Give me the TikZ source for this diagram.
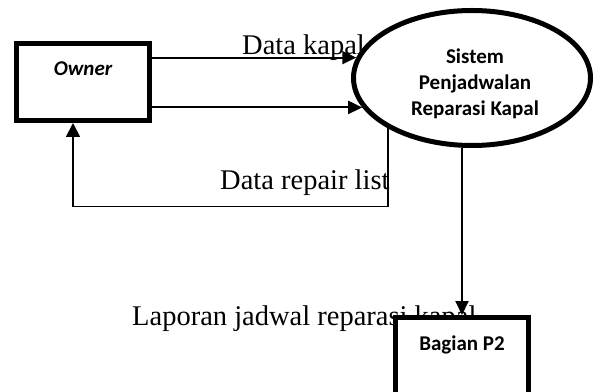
\documentclass[tikz,border=0pt]{standalone}
\usepackage{fontspec}
\setmainfont{Liberation Serif}
\newfontfamily\calibri{Carlito}
\usetikzlibrary{arrows.meta, positioning, shapes.geometric}

\begin{document}
\begin{tikzpicture}[x=1pt, y=1pt]
\clip (0,0) rectangle (594,391);

% Flow labels
\node[anchor=base west, inner sep=0pt, font=\fontsize{28.5}{32}\selectfont] (lblkapal) at (242,336) {Data kapal};
\node[anchor=base west, inner sep=0pt, font=\fontsize{28.5}{32}\selectfont] (lblrepair) at (220,201) {Data repair list};
\node[anchor=base west, inner sep=0pt, font=\fontsize{28.5}{32}\selectfont] (lbllaporan) at (132,66) {Laporan jadwal reparasi kapal};

% External entities
\node[rectangle, draw, line width=5pt, fill=white, minimum width=133pt, minimum height=77pt] (owner) at (83,309) {};
\node[anchor=base, inner sep=0pt, font=\calibri\bfseries\itshape\fontsize{21}{25}\selectfont] (ownertxt) at (83,315) {Owner};

\node[rectangle, draw, line width=5pt, fill=white, minimum width=133pt, minimum height=120pt] (bagian) at (462,13.5) {};
\node[anchor=base, inner sep=0pt, font=\calibri\bfseries\fontsize{21}{25}\selectfont] (bagiantxt) at (462,41) {Bagian P2};

% Process
\node[ellipse, draw, line width=5pt, fill=white, minimum width=237pt, minimum height=135pt] (sys) at (472,313) {};
\node[align=center, inner sep=0pt, font=\calibri\bfseries\fontsize{21}{26}\selectfont] (systxt) at (475,307.5) {Sistem\\Penjadwalan\\Reparasi Kapal};

% Data flows
\draw[-{Triangle[length=14pt, width=13pt]}, line width=2pt] (owner.east |- sys.170) -- (sys.170);
\draw[-{Triangle[length=14pt, width=13pt]}, line width=2pt] (owner.east |- sys.195) -- (sys.195);
\draw[-{Triangle[length=14pt, width=14pt]}, line width=1.8pt] (sys.211) -- ++(0,-78) -| ([xshift=-10pt]owner.south);
\draw[-{Triangle[length=14pt, width=13pt]}, line width=2pt] (bagian.north |- sys.south) -- (bagian.north);
\end{tikzpicture}
\end{document}
